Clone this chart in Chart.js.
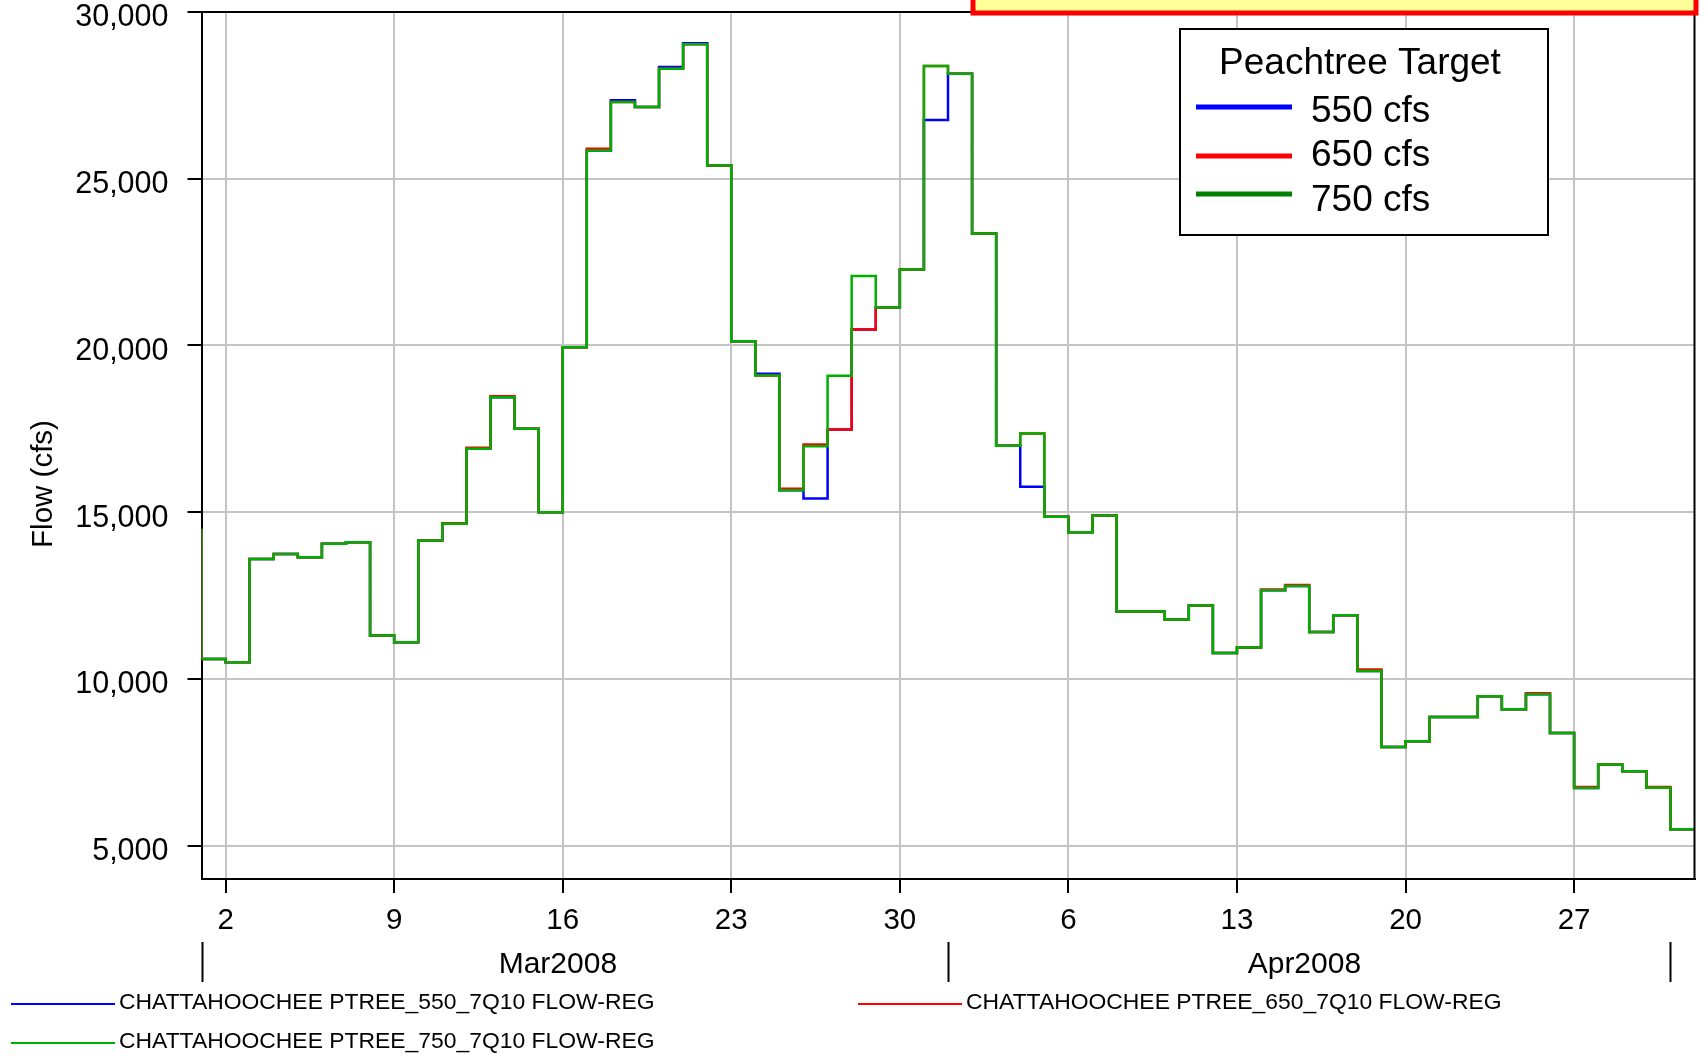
<!DOCTYPE html>
<html>
<head>
<meta charset="utf-8">
<script src="https://cdn.jsdelivr.net/npm/chart.js@4.4.1/dist/chart.umd.min.js"></script>
<style>
  html, body { margin: 0; padding: 0; background: #fff; }
  #wrap { width: 1708px; height: 1059px; position: relative; }
</style>
</head>
<body>
<div id="wrap"><canvas id="flowChart"></canvas></div>
<script>
// daily flow, one value per day stamp, 1 Mar 2008 00:00 .. 2 May 2008 00:00 (index = days since 1 Mar)
const flow550 = [
  14500, 10600, 10500, 13600, 13750, 13650, 14050, 14100, 11300, 11100,
  14150, 14650, 16900, 18450, 17500, 15000, 19950, 25850, 27350, 27150,
  28350, 29060, 25400, 20130, 19150, 15660, 15410, 17480, 20480, 21140,
  22280, 26760, 28150, 23360, 16990, 15760, 14860, 14400, 14900, 12020,
  12020, 11780, 12200, 10780, 10940, 12660, 12790, 11410, 11910, 10240,
  7960, 8130, 8860, 8860, 9480, 9090, 9540, 8380, 6730, 7430,
  7230, 6740, 5490
];
const flow650 = [
  14500, 10600, 10500, 13600, 13750, 13650, 14050, 14100, 11300, 11100,
  14150, 14670, 16930, 18480, 17500, 15000, 19950, 25900, 27300, 27150,
  28300, 29030, 25400, 20130, 19100, 15700, 17030, 17480, 20480, 21140,
  22280, 28380, 28150, 23360, 16990, 17360, 14860, 14400, 14900, 12020,
  12020, 11780, 12200, 10780, 10940, 12680, 12820, 11410, 11910, 10280,
  7960, 8130, 8860, 8860, 9480, 9090, 9570, 8380, 6760, 7430,
  7230, 6760, 5490
];
const flow750 = [
  14500, 10600, 10500, 13600, 13750, 13650, 14050, 14100, 11300, 11100,
  14150, 14650, 16900, 18450, 17500, 15000, 19950, 25850, 27300, 27150,
  28300, 29030, 25400, 20130, 19100, 15660, 16980, 19090, 22080, 21140,
  22280, 28380, 28150, 23360, 16990, 17360, 14860, 14400, 14900, 12020,
  12020, 11780, 12200, 10780, 10940, 12660, 12790, 11410, 11910, 10240,
  7960, 8130, 8860, 8860, 9480, 9090, 9540, 8380, 6730, 7430,
  7230, 6740, 5490
];
const seriesNames = [
  'CHATTAHOOCHEE PTREE_550_7Q10 FLOW-REG',
  'CHATTAHOOCHEE PTREE_650_7Q10 FLOW-REG',
  'CHATTAHOOCHEE PTREE_750_7Q10 FLOW-REG'
];
const targetLabels = ['550 cfs', '650 cfs', '750 cfs'];
const xTickDays = [1, 8, 15, 22, 29, 36, 43, 50, 57];
const xTickLabels = ['2', '9', '16', '23', '30', '6', '13', '20', '27'];
const yTickValues = [5000, 10000, 15000, 20000, 25000, 30000];
const monthStartDays = [0, 31, 61];
const monthNames = ['Mar2008', 'Apr2008'];

const FONT = "'Liberation Sans', Arial, sans-serif";
Chart.defaults.font.family = FONT;
Chart.defaults.color = '#000';

const toPoints = arr => arr.map((v, i) => ({ x: i, y: v }));

const decor = {
  id: 'decor',
  afterDraw(chart) {
    const { ctx, chartArea: a, scales } = chart;
    const x = scales.x;
    ctx.save();

    // top / right frame
    ctx.strokeStyle = '#000';
    ctx.lineWidth = 2;
    ctx.beginPath();
    ctx.moveTo(a.left, a.top);
    ctx.lineTo(a.right, a.top);
    ctx.lineTo(a.right, a.bottom);
    ctx.stroke();

    // month separators and names
    monthStartDays.forEach(d => {
      const px = Math.round(x.getPixelForValue(d)) + 0.5;
      ctx.beginPath();
      ctx.moveTo(px, 942);
      ctx.lineTo(px, 982);
      ctx.stroke();
    });
    ctx.fillStyle = '#000';
    ctx.font = '30px ' + FONT;
    ctx.textAlign = 'center';
    ctx.textBaseline = 'alphabetic';
    ctx.fillText(monthNames[0], x.getPixelForValue(14.8), 973);
    ctx.fillText(monthNames[1], x.getPixelForValue(45.8), 973);

    // y axis title
    ctx.save();
    ctx.translate(44, 484);
    ctx.rotate(-Math.PI / 2);
    ctx.font = '29.5px ' + FONT;
    ctx.textBaseline = 'middle';
    ctx.fillText('Flow (cfs)', 0, 0);
    ctx.restore();

    // legend box
    ctx.fillStyle = '#fff';
    ctx.fillRect(1180, 29, 368, 206);
    ctx.strokeStyle = '#000';
    ctx.lineWidth = 2;
    ctx.strokeRect(1180, 29, 368, 206);
    ctx.fillStyle = '#000';
    ctx.font = '37px ' + FONT;
    ctx.textAlign = 'center';
    ctx.fillText('Peachtree Target', 1360, 74);
    const boxColors = ['#0000ff', '#ff0000', '#008000'];
    const lineY = [107, 156, 194];
    const textY = [122, 166, 210.5];
    ctx.textAlign = 'left';
    targetLabels.forEach((t, i) => {
      ctx.strokeStyle = boxColors[i];
      ctx.lineWidth = 5;
      ctx.beginPath();
      ctx.moveTo(1196, lineY[i]);
      ctx.lineTo(1292, lineY[i]);
      ctx.stroke();
      ctx.fillText(t, 1311, textY[i]);
    });

    // bottom legend
    const legColors = ['#0000ff', '#ff0000', '#00b000'];
    const legPos = [[11, 1003], [858, 1003], [11, 1042]];
    ctx.font = '22.9px ' + FONT;
    ctx.textBaseline = 'middle';
    seriesNames.forEach((n, i) => {
      const [lx, ly] = legPos[i];
      ctx.strokeStyle = legColors[i];
      ctx.lineWidth = 2;
      ctx.beginPath();
      ctx.moveTo(lx, ly + 1);
      ctx.lineTo(lx + 104, ly + 1);
      ctx.stroke();
      ctx.fillStyle = '#000';
      ctx.fillText(n, lx + 108, ly);
    });

    // note box at top (cut off)
    ctx.fillStyle = '#ffff99';
    ctx.fillRect(973, -10, 723, 23);
    ctx.strokeStyle = '#ff0000';
    ctx.lineWidth = 5;
    ctx.strokeRect(973, -10, 723, 23);

    ctx.restore();
  }
};

new Chart(document.getElementById('flowChart'), {
  type: 'line',
  data: {
    datasets: [
      { label: seriesNames[0], data: toPoints(flow550), borderColor: '#0000ff', order: 2 },
      { label: seriesNames[1], data: toPoints(flow650), borderColor: '#ff0000', order: 1 },
      { label: seriesNames[2], data: toPoints(flow750), borderColor: '#00b000', order: 0 }
    ]
  },
  options: {
    responsive: true,
    maintainAspectRatio: false,
    animation: false,
    events: [],
    layout: { padding: { top: 12, right: 13.5, left: 0, bottom: 0 } },
    elements: {
      line: { stepped: 'after', borderWidth: 2.5, tension: 0, fill: false },
      point: { radius: 0 }
    },
    plugins: { legend: { display: false }, tooltip: { enabled: false } },
    scales: {
      x: {
        type: 'linear',
        min: 0,
        max: 62,
        afterBuildTicks: s => { s.ticks = xTickDays.map(v => ({ value: v })); },
        afterFit: s => { s.height = 180; s.paddingLeft = 0; s.paddingRight = 0; },
        ticks: {
          autoSkip: false,
          maxRotation: 0,
          padding: 10,
          font: { size: 29.5 },
          callback: (v, i) => xTickLabels[i]
        },
        grid: { color: '#c4c4c4', lineWidth: 2, tickColor: '#000', tickLength: 14, tickWidth: 2 },
        border: { color: '#000', width: 2 }
      },
      y: {
        min: 4000,
        max: 30000,
        afterBuildTicks: s => { s.ticks = yTickValues.map(v => ({ value: v })); },
        afterFit: s => { s.width = 201.5; s.paddingTop = 0; s.paddingBottom = 0; },
        ticks: {
          padding: 19,
          labelOffset: 6,
          font: { size: 30.5 },
          callback: v => v.toLocaleString('en-US')
        },
        grid: { color: '#c4c4c4', lineWidth: 2, tickColor: '#000', tickLength: 14, tickWidth: 2 },
        border: { color: '#000', width: 2 }
      }
    }
  },
  plugins: [decor]
});
</script>
</body>
</html>
